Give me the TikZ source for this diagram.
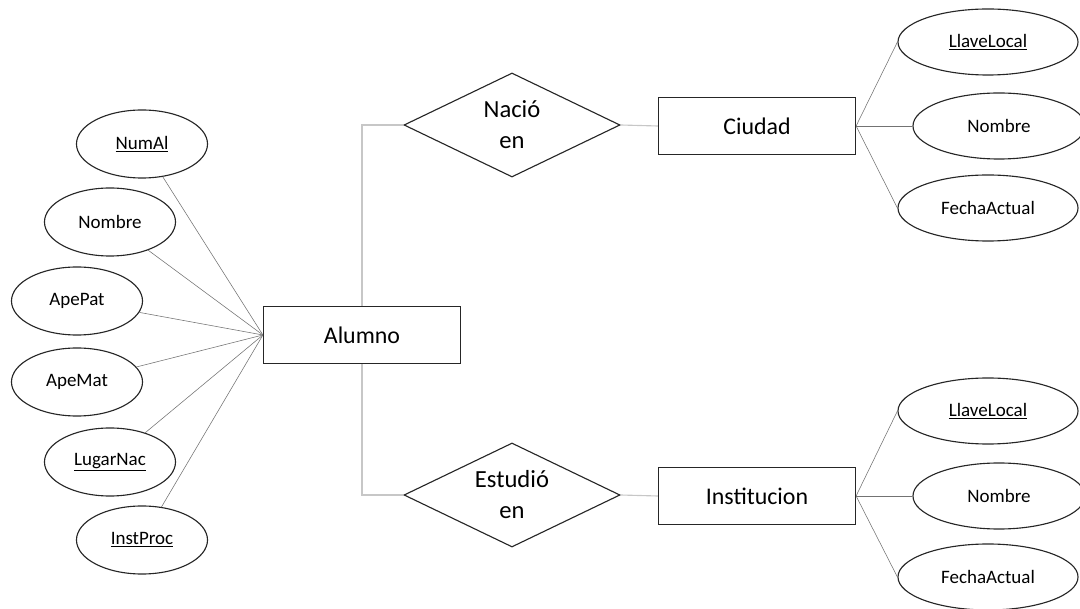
\documentclass[tikz,border=0pt]{standalone}
\usepackage{fontspec}
\setmainfont{Carlito}
\usetikzlibrary{shapes.geometric}
\tikzset{
  entidad/.style={draw=black!85, line width=0.8pt, rectangle, minimum width=4.925cm, minimum height=1.425cm, inner sep=0pt, font=\fontsize{17}{20}\selectfont},
  relacion/.style={draw=black!85, line width=0.8pt, diamond, aspect=2, minimum width=5.4cm, minimum height=2.6cm, inner sep=0pt, align=center, font=\fontsize{17.5}{22}\selectfont},
  atributo/.style={draw=black!85, line width=0.8pt, ellipse, minimum width=3.275cm, minimum height=1.7cm, inner sep=0pt, font=\fontsize{13.5}{16}\selectfont},
  atributoder/.style={atributo, minimum width=4.5cm, minimum height=1.65cm},
  liga/.style={draw=black!55, line width=0.4pt},
  ligarel/.style={draw=black!22, line width=0.8pt}
}
\begin{document}
\begin{tikzpicture}[x=0.025cm, y=-0.025cm]
\useasboundingbox (0, 0) rectangle (1080, 609);
\node[entidad] (alumno) at (362, 335){Alumno};
\node[atributo] (numal) at (142, 144){\underline{NumAl}};
\node[atributo] (nombre) at (110, 222){Nombre};
\node[atributo] (apepat) at (77, 301){ApePat};
\node[atributo] (apemat) at (77, 382){ApeMat};
\node[atributo] (lugarnac) at (110, 462){\underline{LugarNac}};
\node[atributo] (instproc) at (142, 540){\underline{InstProc}};
\node[relacion] (nacio) at (512, 125){Nació\\en};
\node[relacion] (estudio) at (512, 495){Estudió\\en};
\node[entidad] (ciudad) at (757, 126){Ciudad};
\node[entidad] (institucion) at (757, 496){Institucion};
\node[atributoder] (llavec) at (988, 42){\underline{LlaveLocal}};
\node[atributoder, minimum width=4.3cm] (nombrec) at (999, 126){Nombre};
\node[atributoder] (fechac) at (988, 208){FechaActual};
\node[atributoder] (llavei) at (988, 411){\underline{LlaveLocal}};
\node[atributoder, minimum width=4.3cm] (nombrei) at (999, 496){Nombre};
\node[atributoder] (fechai) at (988, 577){FechaActual};
\draw[liga](numal) -- (alumno.west);
\draw[liga](nombre) -- (alumno.west);
\draw[liga](apepat) -- (alumno.west);
\draw[liga](apemat) -- (alumno.west);
\draw[liga](lugarnac) -- (alumno.west);
\draw[liga](instproc) -- (alumno.west);
\draw[ligarel](alumno) |- (nacio.west);
\draw[ligarel](alumno) |- (estudio.west);
\draw[ligarel](nacio.east) -- (ciudad.west);
\draw[ligarel](estudio.east) -- (institucion.west);
\draw[liga](ciudad.east) -- (llavec.west);
\draw[liga](ciudad.east) -- (nombrec.west);
\draw[liga](ciudad.east) -- (fechac.west);
\draw[liga](institucion.east) -- (llavei.west);
\draw[liga](institucion.east) -- (nombrei.west);
\draw[liga](institucion.east) -- (fechai.west);
\end{tikzpicture}
\end{document}
